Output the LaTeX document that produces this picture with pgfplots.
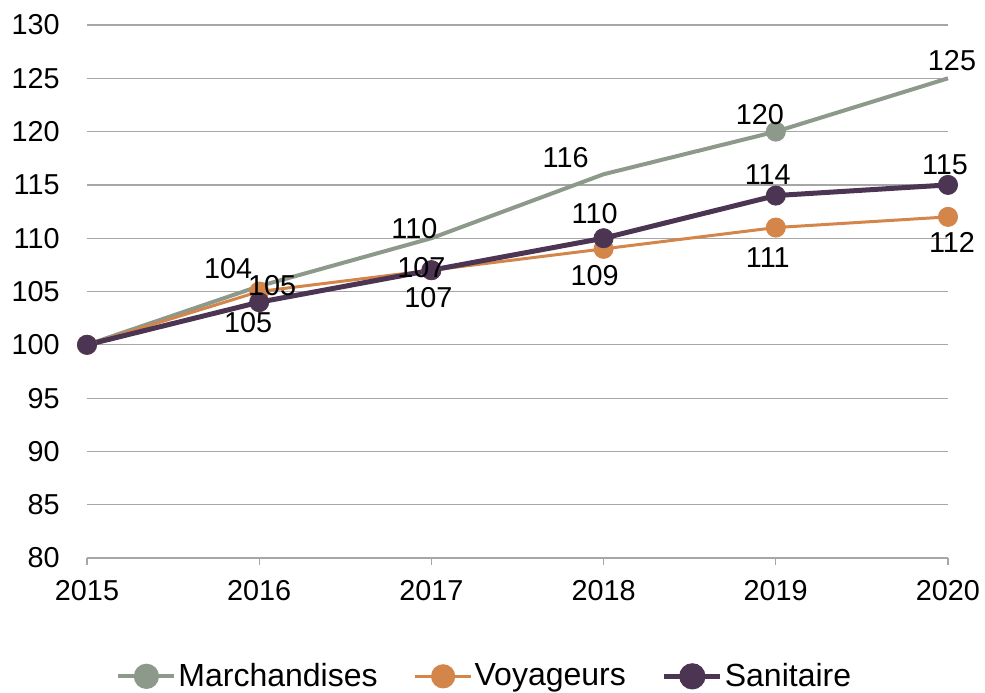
\documentclass[border=0pt]{standalone}
\usepackage{pgfplots}
\pgfplotsset{compat=1.18}
\usepackage{pgfplotstable}
\usepackage{fontspec}
\setmainfont{Liberation Sans}
\definecolor{cMar}{HTML}{8D998A}
\definecolor{cVoy}{HTML}{D4854A}
\definecolor{cSan}{HTML}{4B3553}
\definecolor{cGrid}{HTML}{A6A6A6}

\pgfplotstableread{
x y
2015 100
2016 105.5
2017 110
2018 116
2019 120
2020 125
}\marchandises
\pgfplotstableread{
x y
2015 100
2016 105
2017 107
2018 109
2019 111
2020 112
}\voyageurs
\pgfplotstableread{
x y
2015 100
2016 104
2017 107
2018 110
2019 114
2020 115
}\sanitaire
% data labels: value shown, shift in pt
\pgfplotstableread{
x y lbl dx dy
2016 105.5 104 -15.5 9
2017 110 110 -8.5 5
2018 116 116 -19 8.5
2019 120 120 -8 8.5
2020 125 125 2 9
}\lblMar
\pgfplotstableread{
x y lbl dx dy
2016 105 105 6.5 3
2017 107 107 -5 1.5
2018 109 109 -4.5 -13.5
2019 111 111 -4 -15
2020 112 112 2 -13
}\lblVoy
\pgfplotstableread{
x y lbl dx dy
2016 104 105 -5.5 -10
2017 107 107 -1.5 -13.5
2018 110 110 -4.5 12.5
2019 114 114 -4 10.5
2020 115 115 -1.5 10
}\lblSan

\begin{document}
\begin{tikzpicture}
\useasboundingbox (-43.5pt,-67pt) rectangle (449pt,279pt);
\begin{axis}[
  at={(0pt,0pt)}, anchor=south west,
  scale only axis, width=430.5pt, height=266.5pt,
  xmin=2015, xmax=2020, ymin=80, ymax=130,
  xtick={2015,...,2020}, ytick={80,85,...,130},
  clip=false,
  axis lines*=left,
  x axis line style={draw=cGrid, line width=0.6pt},
  y axis line style={draw=none},
  ytick style={draw=none},
  xtick style={draw=cGrid, line width=0.6pt},
  tick align=outside, major tick length=3.5pt,
  ymajorgrids, grid style={draw=cGrid, line width=0.6pt},
  font=\fontsize{14.4}{16}\selectfont,
  /pgf/number format/assume math mode=true,
  xticklabel style={/pgf/number format/1000 sep={}, inner sep=0pt, yshift=-7.5pt},
  yticklabel style={inner sep=0pt, xshift=-10pt},
  legend style={draw=none, fill=none, at={(rel axis cs:0.462,-0.222)}, anchor=center,
    font=\fontsize{16}{18}\selectfont,
    /tikz/every odd column/.append style={column sep=0pt},
    /tikz/every even column/.append style={column sep=17pt},
    nodes={inner sep=1pt}},
  legend columns=3,
]
\addplot[color=cMar, line width=2pt, mark=*, mark size=4.8pt, mark indices={5},
  mark options={line width=0.4pt},
  legend image code/.code={\draw[cMar, line width=2pt] (0pt,0pt)--(28pt,0pt); \fill[cMar] (14pt,0pt) circle (5.3pt);}]
  table[x=x,y=y] {\marchandises};
\addlegendentry{Marchandises}
\addplot[color=cVoy, line width=1.5pt, mark=*, mark size=4.8pt, mark options={line width=0.4pt},
  legend image code/.code={\draw[cVoy, line width=1.5pt] (0pt,0pt)--(28pt,0pt); \fill[cVoy] (14pt,0pt) circle (5.3pt);}]
  table[x=x,y=y] {\voyageurs};
\addlegendentry{Voyageurs}
\addplot[color=cSan, line width=2.5pt, mark=*, mark size=4.8pt, mark options={line width=0.4pt},
  legend image code/.code={\draw[cSan, line width=2.5pt] (0pt,0pt)--(28pt,0pt); \fill[cSan] (14pt,0pt) circle (5.3pt);}]
  table[x=x,y=y] {\sanitaire};
\addlegendentry{Sanitaire}

\pgfplotsset{lblplot/.style={forget plot, only marks, mark=text, text mark={},
  point meta=explicit symbolic,
  nodes near coords,
  visualization depends on={\thisrow{dx}\as\mydx},
  visualization depends on={\thisrow{dy}\as\mydy},
  every node near coord/.append style={anchor=center, inner sep=0pt, text=black,
     font=\fontsize{14.4}{16}\selectfont, xshift=\mydx pt, yshift=\mydy pt}}}
\addplot[lblplot] table[x=x,y=y,meta=lbl] {\lblMar};
\addplot[lblplot] table[x=x,y=y,meta=lbl] {\lblVoy};
\addplot[lblplot] table[x=x,y=y,meta=lbl] {\lblSan};
\end{axis}
\end{tikzpicture}
\end{document}
